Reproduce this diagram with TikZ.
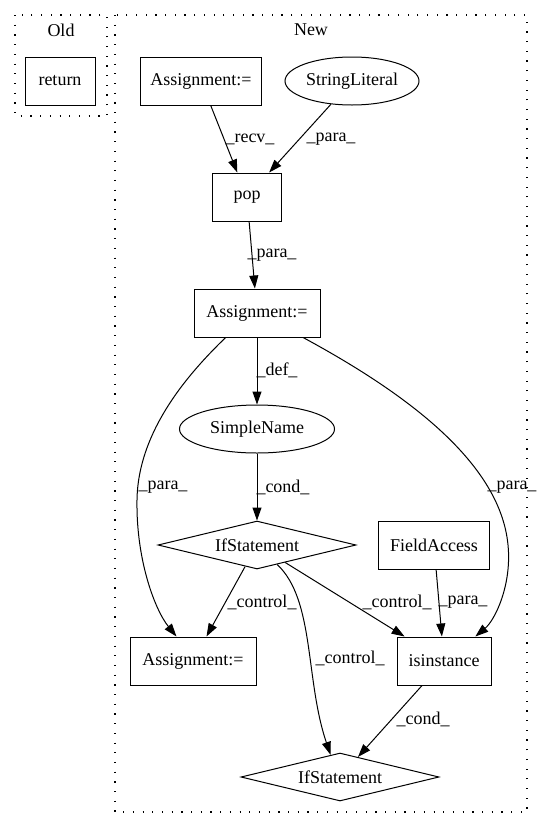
\documentclass[tikz,border=0pt]{standalone}
\usepackage{fontspec}
\setmainfont{Liberation Serif}
\usetikzlibrary{arrows.meta,shapes.geometric}
\begin{document}
\begin{tikzpicture}[x=1pt,y=-1pt,
  every node/.style={font=\fontsize{18}{21}\selectfont, inner sep=0pt},
  box/.style={draw, line width=1pt, rectangle, minimum height=48pt},
  ell/.style={draw, line width=1pt, ellipse, minimum height=48pt},
  dia/.style={draw, line width=1pt, diamond, aspect=4, minimum height=48pt, minimum width=198pt},
  cluster/.style={draw, line width=1.2pt, dash pattern=on 1.2pt off 8.5pt},
  edge/.style={draw, line width=1pt, -{Triangle[length=13pt,width=9pt]}}
]
\fill[white] (0,0) rectangle (543,828);
\useasboundingbox (0,0) rectangle (543,828);

% clusters
\draw[cluster] (15,15) rectangle (107,116);
\draw[cluster] (115,15) rectangle (527,812);
\node (oldt) at (61,30) {Old};
\node (newt) at (311,30) {New};

% nodes
\node[box, minimum width=70pt] (ret) at (60,81) {return};
\node[box, minimum width=121pt] (asg1) at (201,81) {Assignment:=};
\node[ell, minimum width=134pt] (str) at (352,81) {StringLiteral};
\node[box, minimum width=69pt] (pop) at (247,197) {pop};
\node[box, minimum width=126pt] (asg2) at (257,313) {Assignment:=};
\node[ell, minimum width=155pt] (sn) at (257,429) {SimpleName};
\node[dia] (if1) at (257,545) {IfStatement};
\node[box, minimum width=111pt] (fa) at (434,545) {FieldAccess};
\node[box, minimum width=126pt] (asg3) at (193,661) {Assignment:=};
\node[box, minimum width=94pt] (isin) at (444,661) {isinstance};
\node[dia] (if2) at (340,777) {IfStatement};

% edges
\draw[edge] (asg1) -- (pop);
\draw[edge] (str) -- (pop);
\draw[edge] (pop) -- (asg2);
\draw[edge] (asg2) -- (sn);
\draw[edge] (sn) -- (if1);
\draw[edge] (asg2.218) .. controls (190,372) and (138,430) .. (137,500)
  .. controls (136,560) and (155,610) .. (asg3.124);
\draw[edge] (asg2.332) .. controls (400,390) and (500,460) .. (508,545)
  .. controls (512,585) and (495,620) .. (isin.38);
\draw[edge] (if1) -- (asg3);
\draw[edge] (if1) -- (isin);
\draw[edge] (if1.316) .. controls (315,600) and (305,680) .. (if2.113);
\draw[edge] (fa) -- (isin);
\draw[edge] (isin) -- (if2);

% labels
\node (l1) at (250,139) {\_recv\_};
\node (l2) at (331,139) {\_para\_};
\node (l3) at (272,255) {\_para\_};
\node (l4) at (277,370) {\_def\_};
\node (l5) at (163,487) {\_para\_};
\node (l6) at (283,487) {\_cond\_};
\node (l7) at (512,487) {\_para\_};
\node (l8) at (262,602) {\_control\_};
\node (l9) at (397,602) {\_control\_};
\node (l10) at (463,602) {\_para\_};
\node (l11) at (350,658) {\_control\_};
\node (l12) at (423,719) {\_cond\_};
\end{tikzpicture}
\end{document}
